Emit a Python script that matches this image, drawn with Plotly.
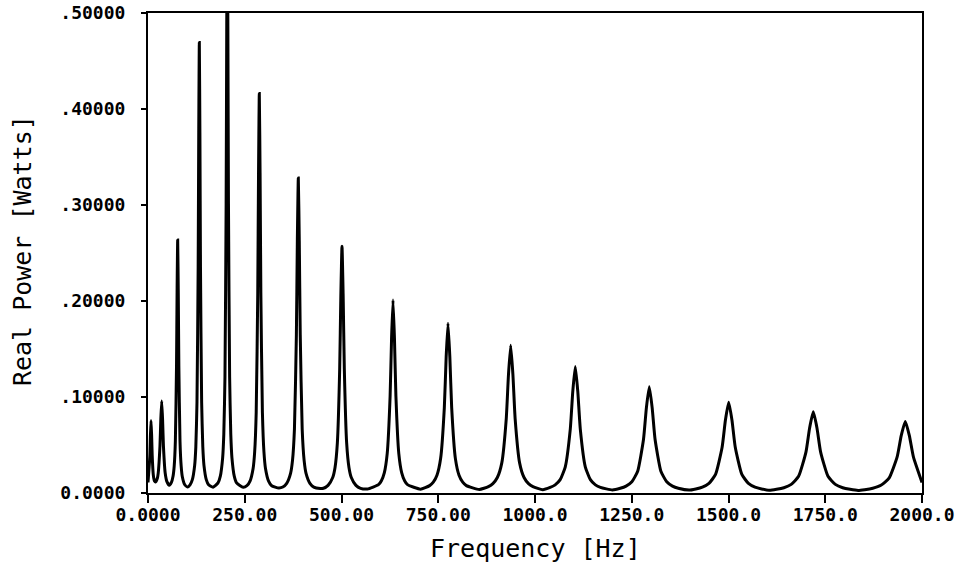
import plotly.graph_objects as go

# Frequency samples [Hz], one line per resonance peak
freq_hz = [
    0, 4.8, 6.3, 7.8, 9.3, 10.8, 13.8, 16.8, 19.5,
    24.15, 26.4, 30.9, 33.15, 35.4, 37.65, 39.9, 44.4, 48.9, 55,
    60.5, 64.7, 67.7, 70.7, 73.7, 75.2, 76.7, 78.2, 79.7, 82.7, 85.7, 88.7, 94.7, 102,
    108.6, 114.6, 120.6, 123.6, 126.6, 129.6, 131.1, 132.6, 134.1, 135.6, 138.6, 141.6, 144.6, 150.6, 156.6, 168,
    180.9, 186.9, 192.9, 195.9, 198.9, 201.9, 203.4, 204.9, 206.4, 207.9, 210.9, 213.9, 216.9, 222.9, 228.9, 246,
    255.6, 263.6, 271.6, 275.6, 279.6, 283.6, 285.6, 287.6, 289.6, 291.6, 295.6, 299.6, 303.6, 311.6, 319.6, 338,
    348.4, 358.4, 368.4, 373.4, 378.4, 383.4, 385.9, 388.4, 390.9, 393.4, 398.4, 403.4, 408.4, 418.4, 428.4, 445,
    453.3, 465.3, 477.3, 483.3, 489.3, 495.3, 498.3, 501.3, 504.3, 507.3, 513.3, 519.3, 525.3, 537.3, 549.3, 567,
    595.6, 603.1, 610.6, 618.1, 625.6, 629.35, 633.1, 636.85, 640.6, 648.1, 655.6, 663.1, 670.6, 704,
    727.7, 737.2, 746.7, 756.2, 765.7, 770.45, 775.2, 779.95, 784.7, 794.2, 803.7, 813.2, 822.7, 856,
    879.7, 891.2, 902.7, 914.2, 925.7, 931.45, 937.2, 942.95, 948.7, 960.2, 971.7, 983.2, 994.7, 1020,
    1039.1, 1052.1, 1065.1, 1078.1, 1091.1, 1097.6, 1104.1, 1110.6, 1117.1, 1130.1, 1143.1, 1156.1, 1169.1, 1200,
    1220.3, 1235.3, 1250.3, 1265.3, 1280.3, 1287.8, 1295.3, 1302.8, 1310.3, 1325.3, 1340.3, 1355.3, 1370.3, 1398,
    1415.5, 1432.5, 1449.5, 1466.5, 1483.5, 1492, 1500.5, 1509, 1517.5, 1534.5, 1551.5, 1568.5, 1585.5, 1605,
    1624.1, 1643.1, 1662.1, 1681.1, 1700.1, 1709.6, 1719.1, 1728.6, 1738.1, 1757.1, 1776.1, 1795.1, 1814.1, 1835,
    1851.8, 1872.8, 1893.8, 1914.8, 1935.8, 1946.3, 1956.8, 1967.3, 1977.8, 2000,
]

# Real power [W] at the samples above
power_w = [
    0.011, 0.0385, 0.0605, 0.0754, 0.061, 0.0395, 0.0185, 0.0125, 0.0115,
    0.0154, 0.0207, 0.049, 0.0772, 0.0958, 0.077, 0.0488, 0.0209, 0.0118, 0.008,
    0.011, 0.0174, 0.028, 0.054, 0.1325, 0.211, 0.2635, 0.211, 0.1325, 0.054, 0.028, 0.0169, 0.0089, 0.0062,
    0.0085, 0.0139, 0.0288, 0.0481, 0.0949, 0.2353, 0.3757, 0.4693, 0.3757, 0.2353, 0.0949, 0.0481, 0.0288, 0.0139, 0.0085, 0.006,
    0.0105, 0.0175, 0.0366, 0.0613, 0.1213, 0.3013, 0.4813, 0.6013, 0.4813, 0.3013, 0.1213, 0.0613, 0.0366, 0.0175, 0.0105, 0.006,
    0.0076, 0.0124, 0.0256, 0.0427, 0.0842, 0.2087, 0.3332, 0.4162, 0.3332, 0.2087, 0.0842, 0.0427, 0.0256, 0.0124, 0.0076, 0.0052,
    0.0062, 0.01, 0.0204, 0.0339, 0.0666, 0.1647, 0.2628, 0.3282, 0.2628, 0.1647, 0.0666, 0.0339, 0.0204, 0.01, 0.0062, 0.0048,
    0.0049, 0.0079, 0.0161, 0.0266, 0.0522, 0.129, 0.2058, 0.257, 0.2058, 0.129, 0.0522, 0.0266, 0.0161, 0.0079, 0.0049, 0.0042,
    0.0087, 0.0128, 0.021, 0.041, 0.101, 0.161, 0.201, 0.161, 0.101, 0.041, 0.021, 0.0128, 0.0087, 0.004,
    0.0077, 0.0113, 0.0185, 0.0361, 0.0889, 0.1417, 0.1769, 0.1417, 0.0889, 0.0361, 0.0185, 0.0113, 0.0077, 0.0037,
    0.0067, 0.0098, 0.0161, 0.0314, 0.0773, 0.1232, 0.1538, 0.1232, 0.0773, 0.0314, 0.0161, 0.0098, 0.0067, 0.0035,
    0.0058, 0.0085, 0.0139, 0.027, 0.0663, 0.1056, 0.1318, 0.1056, 0.0663, 0.027, 0.0139, 0.0085, 0.0058, 0.0032,
    0.0049, 0.0072, 0.0117, 0.0227, 0.0557, 0.0887, 0.1107, 0.0887, 0.0557, 0.0227, 0.0117, 0.0072, 0.0049, 0.003,
    0.0042, 0.0061, 0.01, 0.0194, 0.0476, 0.0758, 0.0946, 0.0758, 0.0476, 0.0194, 0.01, 0.0061, 0.0042, 0.0028,
    0.0038, 0.0055, 0.009, 0.0174, 0.0426, 0.0678, 0.0846, 0.0678, 0.0426, 0.0174, 0.009, 0.0055, 0.0038, 0.0026,
    0.0034, 0.005, 0.008, 0.0154, 0.0376, 0.0598, 0.0746, 0.0598, 0.0376, 0.011,
]

x_tick_vals = [0, 250, 500, 750, 1000, 1250, 1500, 1750, 2000]
x_tick_text = ["0.0000", "250.00", "500.00", "750.00", "1000.0", "1250.0", "1500.0", "1750.0", "2000.0"]
y_tick_vals = [0, 0.1, 0.2, 0.3, 0.4, 0.5]
y_tick_text = ["0.0000", ".10000", ".20000", ".30000", ".40000", ".50000"]

x_title = "Frequency [Hz]"
y_title = "Real Power [Watts]"

MONO = "DejaVu Sans Mono"

fig = go.Figure(
    go.Scatter(
        x=freq_hz,
        y=power_w,
        mode="lines",
        line=dict(color="black", width=3, shape="spline", smoothing=0.5),
        hoverinfo="skip",
    )
)

axis_common = dict(
    showline=True,
    linewidth=2,
    linecolor="black",
    mirror=True,
    showgrid=False,
    zeroline=False,
    automargin=False,
    ticks="outside",
    tickwidth=2,
    tickcolor="black",
    tickfont=dict(family=MONO, size=18, color="black", weight="bold"),
)

fig.update_layout(
    width=961,
    height=578,
    margin=dict(l=148, r=39, t=13, b=85),
    paper_bgcolor="white",
    plot_bgcolor="white",
    showlegend=False,
    xaxis=dict(
        range=[0, 2000],
        tickvals=x_tick_vals,
        ticktext=x_tick_text,
        ticklen=8,
        ticklabelstandoff=-4,
        **axis_common,
    ),
    yaxis=dict(
        range=[0, 0.5],
        tickvals=y_tick_vals,
        ticktext=y_tick_text,
        ticklen=5,
        ticklabelstandoff=12,
        **axis_common,
    ),
    annotations=[
        dict(
            text=x_title, xref="paper", yref="paper", x=0.5, y=-0.1146,
            xanchor="center", yanchor="middle", showarrow=False,
            font=dict(family=MONO, size=25, color="black"),
        ),
        dict(
            text=y_title, xref="paper", yref="paper", x=-0.1628, y=0.506,
            xanchor="center", yanchor="middle", showarrow=False, textangle=-90,
            font=dict(family=MONO, size=25, color="black"),
        ),
    ],
)

fig.write_html("out.html")
